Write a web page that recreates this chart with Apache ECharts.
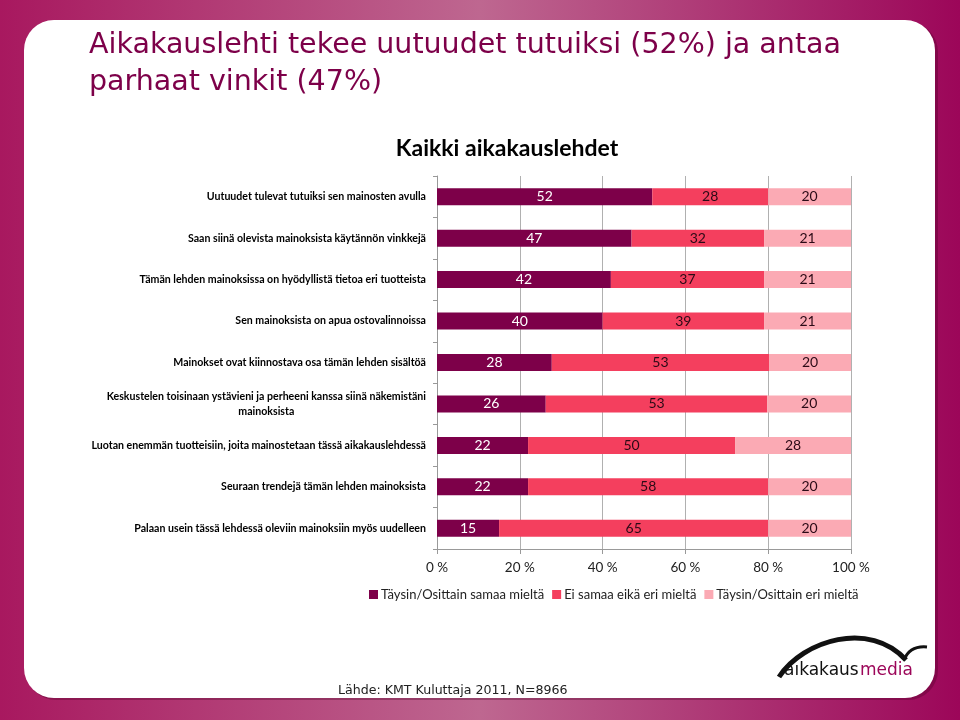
<!DOCTYPE html>
<html>
<head>
<meta charset="utf-8">
<script src="https://cdn.jsdelivr.net/npm/echarts@6/dist/echarts.min.js"></script>
<style>html,body{margin:0;padding:0;background:#fff}#c{width:960px;height:720px}</style>
</head>
<body>
<div id="c"></div>
<script>
var categories = [
  'Uutuudet tulevat tutuiksi sen mainosten avulla',
  'Saan siinä olevista mainoksista käytännön vinkkejä',
  'Tämän lehden mainoksissa on hyödyllistä tietoa eri tuotteista',
  'Sen mainoksista on apua ostovalinnoissa',
  'Mainokset ovat kiinnostava osa tämän lehden sisältöä',
  'Keskustelen toisinaan ystävieni ja perheeni kanssa siinä näkemistäni\nmainoksista',
  'Luotan enemmän tuotteisiin, joita mainostetaan tässä aikakauslehdessä',
  'Seuraan trendejä tämän lehden mainoksista',
  'Palaan usein tässä lehdessä oleviin mainoksiin myös uudelleen'
];
var seriesNames = ['Täysin/Osittain samaa mieltä', 'Ei samaa eikä eri mieltä', 'Täysin/Osittain eri mieltä'];
var agree    = [52, 47, 42, 40, 28, 26, 22, 22, 15];
var neutral  = [28, 32, 37, 39, 53, 53, 50, 58, 65];
var disagree = [20, 21, 21, 21, 20, 20, 28, 20, 20];
var xTicks = ['0 %', '20 %', '40 %', '60 %', '80 %', '100 %'];

var raw = [agree, neutral, disagree];
var totals = agree.map(function (v, i) { return agree[i] + neutral[i] + disagree[i]; });
var colors = ['#7D0049', '#F43F5E', '#FBAAB4'];
var labelColors = ['#ffffff', '#2b0a16', '#2b0a16'];

var chart = echarts.init(document.getElementById('c'));
var series = raw.map(function (arr, si) {
  return {
    name: seriesNames[si],
    type: 'bar',
    stack: 'total',
    barWidth: 17,
    itemStyle: { color: colors[si] },
    label: {
      show: true,
      position: 'inside',
      color: labelColors[si],
      fontFamily: 'Lato',
      fontSize: 14,
      formatter: function (p) { return arr[p.dataIndex]; }
    },
    data: arr.map(function (v, i) { return v / totals[i] * 100; })
  };
});

chart.setOption({
  animation: false,
  backgroundColor: 'transparent',
  graphic: [
    { type: 'rect', z: -10, shape: { x: 0, y: 0, width: 960, height: 720 },
      style: { fill: { type: 'linear', x: 0, y: 0, x2: 1, y2: 0, colorStops: [
        { offset: 0, color: '#A8185F' }, { offset: 0.5, color: '#BE6790' }, { offset: 1, color: '#9C0659' }] } } },
    { type: 'rect', z: -9, shape: { x: 26, y: 22, width: 912, height: 678, r: 30 },
      style: { fill: 'rgba(80,0,40,0.35)' } },
    { type: 'rect', z: -8, shape: { x: 24, y: 20, width: 911, height: 678, r: 30 },
      style: { fill: '#ffffff' } },
    { type: 'bezierCurve', z: 5, shape: { x1: 779, y1: 677, cpx1: 803, cpy1: 640, cpx2: 870, cpy2: 620, x2: 906, y2: 660 },
      style: { stroke: '#111', lineWidth: 5, fill: null } },
    { type: 'bezierCurve', z: 5, shape: { x1: 904, y1: 660, cpx1: 908, cpy1: 650, cpx2: 916, cpy2: 646, x2: 927, y2: 647 },
      style: { stroke: '#111', lineWidth: 3, fill: null } },
    { type: 'text', z: 5, x: 784, y: 671,
      style: { text: 'aıkakaus', fill: '#111', font: '17px "DejaVu Sans"', verticalAlign: 'middle', align: 'left' } },
    { type: 'text', z: 5, x: 860, y: 671,
      style: { text: 'media', fill: '#9C0659', font: '17px "DejaVu Sans"', verticalAlign: 'middle', align: 'left' } }
  ],
  title: [
    { text: 'Aikakauslehti tekee uutuudet tutuiksi (52%) ja antaa\nparhaat vinkit (47%)',
      left: 84, top: 22,
      textStyle: { color: '#7D0049', fontFamily: 'DejaVu Sans', fontWeight: 'normal', fontSize: 28.5, lineHeight: 37 } },
    { text: 'Kaikki aikakauslehdet', left: 502, top: 132, textAlign: 'center',
      textStyle: { color: '#000', fontFamily: 'Lato', fontWeight: 'bold', fontSize: 23 } },
    { text: 'Lähde: KMT Kuluttaja 2011, N=8966', left: 333, top: 679,
      textStyle: { color: '#222', fontFamily: 'DejaVu Sans', fontWeight: 'normal', fontSize: 12.6 } }
  ],
  legend: {
    left: 364, top: 583, itemWidth: 9, itemHeight: 9, itemGap: 8,
    icon: 'rect',
    textStyle: { color: '#222', fontFamily: 'Lato', fontSize: 13, padding: [0, 0, 0, -2] },
    data: seriesNames
  },
  grid: { left: 437, right: 109, top: 176, bottom: 171, containLabel: false },
  xAxis: {
    type: 'value', min: 0, max: 100, interval: 20,
    axisLine: { show: true, lineStyle: { color: '#999' } },
    axisTick: { show: true, length: 5, lineStyle: { color: '#999' } },
    splitLine: { show: true, lineStyle: { color: '#b0b0b0' } },
    axisLabel: { margin: 12, color: '#222', fontFamily: 'Lato', fontSize: 13.5,
      formatter: function (v) { return xTicks[Math.round(v / 20)]; } }
  },
  yAxis: {
    type: 'category', inverse: true, data: categories,
    axisLine: { show: true, lineStyle: { color: '#999' } },
    axisTick: { show: true, length: 4, inside: false, lineStyle: { color: '#999' } },
    axisLabel: {
      margin: 11, color: '#000', fontFamily: 'Lato', fontWeight: 'bold', fontSize: 10.6, lineHeight: 15,
      formatter: function (v) {
        var parts = v.split('\n');
        if (parts.length === 1) return v;
        return parts.map(function (s) { return '{c|' + s + '}'; }).join('\n');
      },
      rich: { c: { align: 'center', fontFamily: 'Lato', fontWeight: 'bold', fontSize: 10.6, lineHeight: 15, color: '#000' } }
    }
  },
  series: series
});
</script>
</body>
</html>
